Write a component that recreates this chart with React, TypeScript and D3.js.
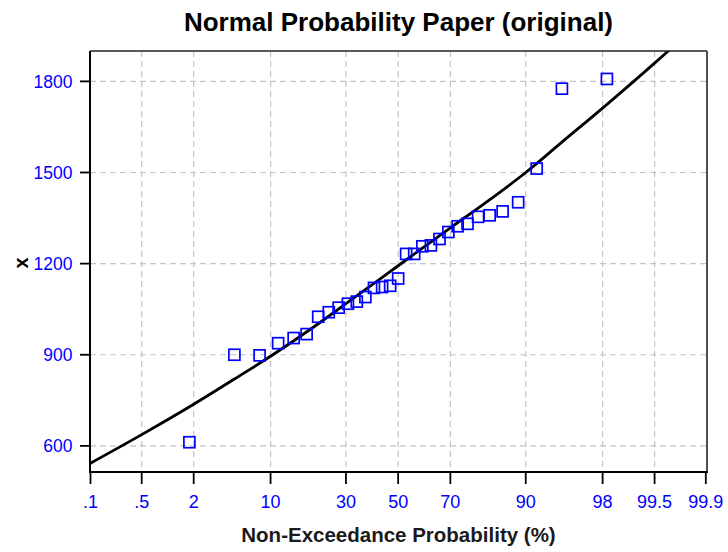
import React from "react";
import * as d3 from "d3";

// Observed data: plotting positions (%) and sorted values
const obsProb = [1.8, 5.0, 8.2, 11.4, 14.7, 17.9, 21.1, 24.3, 27.5, 30.7, 33.9, 37.1, 40.4, 43.6, 46.8, 50.0, 53.2, 56.4, 59.6, 62.9, 66.1, 69.3, 72.5, 75.7, 78.9, 82.1, 85.3, 88.6, 91.8, 95.0, 98.2];
const obsValue = [612, 900, 898, 938, 955, 968, 1025, 1040, 1055, 1068, 1075, 1090, 1120, 1123, 1127, 1151, 1232, 1232, 1257, 1260, 1281, 1304, 1323, 1331, 1354, 1359, 1372, 1402, 1513, 1776, 1808];

// Fitted curve
const fitProb = [0.1, 0.5, 2, 5, 10, 20, 30, 50, 70, 80, 90, 95, 98, 99.5, 99.9];
const fitValue = [543, 637, 737, 820, 895, 993, 1068, 1193, 1318, 1392, 1500, 1600, 1712, 1860, 2012];

const xTickProb = [0.1, 0.5, 2, 10, 30, 50, 70, 90, 98, 99.5, 99.9];
const xTickLabels = [".1", ".5", "2", "10", "30", "50", "70", "90", "98", "99.5", "99.9"];
const yTicks = [600, 900, 1200, 1500, 1800];

const title = "Normal Probability Paper (original)";
const xTitle = "Non-Exceedance Probability (%)";
const yTitle = "x";

// inverse standard normal CDF (Acklam)
function qnorm(p: number): number {
  const a = [-3.969683028665376e1, 2.209460984245205e2, -2.759285104469687e2, 1.38357751867269e2, -3.066479806614716e1, 2.506628277459239];
  const b = [-5.447609879822406e1, 1.615858368580409e2, -1.556989798598866e2, 6.680131188771972e1, -1.328068155288572e1];
  const c = [-7.784894002430293e-3, -3.223964580411365e-1, -2.400758277161838, -2.549732539343734, 4.374664141464968, 2.938163982698783];
  const d = [7.784695709041462e-3, 3.224671290700398e-1, 2.445134137142996, 3.754408661907416];
  const pl = 0.02425;
  let q, r;
  if (p < pl) {
    q = Math.sqrt(-2 * Math.log(p));
    return (((((c[0] * q + c[1]) * q + c[2]) * q + c[3]) * q + c[4]) * q + c[5]) / ((((d[0] * q + d[1]) * q + d[2]) * q + d[3]) * q + 1);
  } else if (p <= 1 - pl) {
    q = p - 0.5;
    r = q * q;
    return ((((((a[0] * r + a[1]) * r + a[2]) * r + a[3]) * r + a[4]) * r + a[5]) * q) / (((((b[0] * r + b[1]) * r + b[2]) * r + b[3]) * r + b[4]) * r + 1);
  } else {
    q = Math.sqrt(-2 * Math.log(1 - p));
    return -(((((c[0] * q + c[1]) * q + c[2]) * q + c[3]) * q + c[4]) * q + c[5]) / ((((d[0] * q + d[1]) * q + d[2]) * q + d[3]) * q + 1);
  }
}

const W = 728, H = 552;
const L = 90, R = 707, T = 51, B = 472;

export default function App() {
  const zScale = d3.scaleLinear().domain([qnorm(0.001), qnorm(0.999)]).range([90.5, 705.8]);
  const x = (pct: number) => zScale(qnorm(pct / 100));
  const y = d3.scaleLinear().domain([514, 1900]).range([B, T]);

  const line = d3
    .line<number>()
    .x((_, i) => x(fitProb[i]))
    .y((v) => y(v))
    .curve(d3.curveMonotoneX)(fitValue) as string;

  const font = "'Liberation Sans', Arial, sans-serif";
  const blue = "#0000ff";
  const grid = "#c4c4c4";

  return (
    <svg width={W} height={H} style={{ position: "absolute", left: 0, top: 0, background: "#fff" }} fontFamily={font}>
      <defs>
        <clipPath id="plotclip">
          <rect x={L} y={T} width={R - L} height={B - T} />
        </clipPath>
      </defs>
      <rect x={0} y={0} width={W} height={H} fill="#fff" />
      {/* grid */}
      {xTickProb.slice(1, -1).map((p) => (
        <line key={"gx" + p} x1={x(p)} x2={x(p)} y1={T} y2={B} stroke={grid} strokeWidth={1.2} strokeDasharray="6,4" />
      ))}
      {yTicks.map((v) => (
        <line key={"gy" + v} x1={L} x2={R} y1={y(v)} y2={y(v)} stroke={grid} strokeWidth={1.2} strokeDasharray="6,4" />
      ))}
      {/* fitted curve */}
      <path d={line} fill="none" stroke="#000" strokeWidth={2.8} clipPath="url(#plotclip)" />
      {/* points */}
      {obsValue.map((v, i) => (
        <rect key={"pt" + i} x={x(obsProb[i]) - 5.5} y={y(v) - 5.5} width={11} height={11} fill="none" stroke={blue} strokeWidth={1.7} />
      ))}
      {/* frame */}
      <line x1={L} x2={R} y1={T} y2={T} stroke="#222" strokeWidth={1.6} />
      <line x1={R} x2={R} y1={T} y2={B} stroke="#222" strokeWidth={1.6} />
      <line x1={L} x2={L} y1={T} y2={B + 1} stroke="#000" strokeWidth={2} />
      <line x1={L - 1} x2={R + 1} y1={B} y2={B} stroke="#000" strokeWidth={2} />
      {/* y ticks */}
      {yTicks.map((v) => (
        <g key={"yt" + v}>
          <line x1={L - 10} x2={L} y1={y(v)} y2={y(v)} stroke="#000" strokeWidth={1.8} />
          <text x={72.5} y={y(v)} dy="0.36em" textAnchor="end" fontSize={17.5} fill={blue}>
            {String(v)}
          </text>
        </g>
      ))}
      {/* x ticks */}
      {xTickProb.map((p, i) => (
        <g key={"xt" + p}>
          <line x1={x(p)} x2={x(p)} y1={B} y2={B + 12} stroke="#000" strokeWidth={1.8} />
          <text x={x(p)} y={508} textAnchor="middle" fontSize={18} fill={blue}>
            {xTickLabels[i]}
          </text>
        </g>
      ))}
      {/* titles */}
      <text x={(L + R) / 2} y={31} textAnchor="middle" fontSize={26} fontWeight="bold" fill="#000">
        {title}
      </text>
      <text x={(L + R) / 2} y={542} textAnchor="middle" fontSize={20.5} fontWeight="bold" fill="#1a1a1a">
        {xTitle}
      </text>
      <text x={21} y={263} textAnchor="middle" fontSize={20} fontWeight="bold" fill="#000" dy="0.35em" transform="rotate(-90,21,263)">
        {yTitle}
      </text>
    </svg>
  );
}
